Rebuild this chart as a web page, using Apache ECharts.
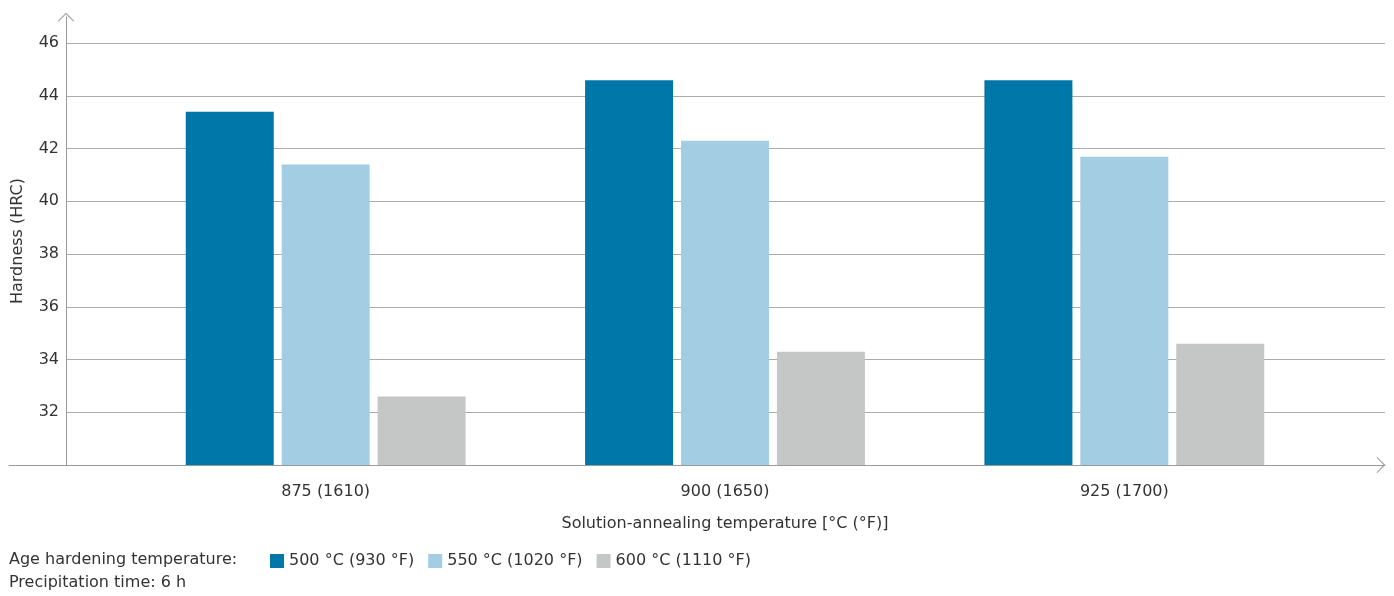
<!DOCTYPE html>
<html>
<head>
<meta charset="utf-8">
<script src="https://cdn.jsdelivr.net/npm/echarts@6/dist/echarts.min.js"></script>
<style>
  html, body { margin: 0; padding: 0; background: #fff; }
  #chart { width: 1394px; height: 596px; }
</style>
</head>
<body>
<div id="chart"></div>
<script>
const categories = ['875 (1610)', '900 (1650)', '925 (1700)'];
const seriesNames = ['500 °C (930 °F)', '550 °C (1020 °F)', '600 °C (1110 °F)'];
const hard500 = [43.4, 44.6, 44.6];
const hard550 = [41.4, 42.3, 41.7];
const hard600 = [32.6, 34.3, 34.6];
const yTickLabels = [32, 34, 36, 38, 40, 42, 44, 46];
const xAxisTitle = 'Solution-annealing temperature [°C (°F)]';
const yAxisTitle = 'Hardness (HRC)';
const legendTitle = 'Age hardening temperature:';
const noteText = 'Precipitation time: 6 h';

const colors = ['#0077a9', '#a2cde3', '#c5c6c6'];
const FONT = 'DejaVu Sans';
const FS = 16;
const TEXT = '#333333';
const chevron = 'path://M0,10 L10,0 L20,10 L18.4,10 L10,1.9 L1.6,10 Z';

const chart = echarts.init(document.getElementById('chart'), null, { renderer: 'canvas' });
const yMin = 30, yTop = 46, yArrowMax = 47;
const unitPx = (465 - 17) / (yArrowMax - yMin);
const gridTopTicks = Math.round(465 - (yTop - yMin) * unitPx);

chart.setOption({
  animation: false,
  textStyle: { fontFamily: FONT },
  color: colors,
  grid: [
    { left: 126, right: 70, top: 17, bottom: 131 },            // bars
    { left: 66, right: 9, top: gridTopTicks, bottom: 131 },    // labels + gridlines
    { left: 9, right: 9, top: 17, bottom: 131 },               // x axis line
    { left: 66, right: 9, top: 17, bottom: 131 }               // y axis line
  ],
  xAxis: [
    {
      gridIndex: 0, type: 'category', data: categories,
      axisLine: { show: false }, axisTick: { show: false },
      axisLabel: { color: TEXT, fontSize: FS, margin: 19, fontFamily: FONT },
      name: xAxisTitle, nameLocation: 'middle', nameGap: 51,
      nameTextStyle: { color: TEXT, fontSize: FS, fontFamily: FONT }
    },
    { gridIndex: 1, type: 'value', min: 0, max: 1, show: false },
    {
      gridIndex: 2, type: 'value', min: 0, max: 1,
      axisLine: {
        show: true, symbol: ['none', chevron], symbolSize: [17, 9], symbolOffset: [0, -4],
        lineStyle: { color: '#9a9a9a', width: 1 }
      },
      axisTick: { show: false }, axisLabel: { show: false }, splitLine: { show: false }
    },
    { gridIndex: 3, type: 'value', min: 0, max: 1, show: false }
  ],
  yAxis: [
    { gridIndex: 0, type: 'value', min: yMin, max: yArrowMax, show: false },
    {
      gridIndex: 1, type: 'value', min: yMin, max: yTop, interval: 2,
      axisLine: { show: false },
      axisTick: { show: false },
      axisLabel: {
        color: TEXT, fontSize: FS, margin: 7, fontFamily: FONT,
        showMinLabel: false,
        formatter: v => yTickLabels.indexOf(v) >= 0 ? String(v) : ''
      },
      splitLine: { show: true, lineStyle: { color: '#ababab', width: 1.2 } }
    },
    { gridIndex: 2, type: 'value', min: yMin, max: yArrowMax, show: false },
    {
      gridIndex: 3, type: 'value', min: yMin, max: yArrowMax,
      axisLine: {
        show: true, symbol: ['none', chevron], symbolSize: [17, 9],
        lineStyle: { color: '#9a9a9a', width: 1 }
      },
      axisTick: { show: false }, axisLabel: { show: false }, splitLine: { show: false },
      name: yAxisTitle, nameLocation: 'middle', nameGap: 40,
      nameTextStyle: { color: TEXT, fontSize: FS, fontFamily: FONT }
    }
  ],
  legend: {
    left: 270, top: 553, padding: 0, itemWidth: 14, itemHeight: 14, itemGap: 14,
    icon: 'rect', data: seriesNames,
    textStyle: { color: TEXT, fontSize: FS, fontFamily: FONT }
  },
  graphic: [
    { type: 'text', left: 9, top: 552, style: { text: legendTitle, fill: TEXT, font: FS + 'px "' + FONT + '"' } },
    { type: 'text', left: 9, top: 575, style: { text: noteText, fill: TEXT, font: FS + 'px "' + FONT + '"' } }
  ],
  series: [
    { name: seriesNames[0], type: 'bar', xAxisIndex: 0, yAxisIndex: 0, data: hard500, barWidth: 88, barGap: '9%' },
    { name: seriesNames[1], type: 'bar', xAxisIndex: 0, yAxisIndex: 0, data: hard550, barWidth: 88, barGap: '9%' },
    { name: seriesNames[2], type: 'bar', xAxisIndex: 0, yAxisIndex: 0, data: hard600, barWidth: 88, barGap: '9%' }
  ]
});
</script>
</body>
</html>
